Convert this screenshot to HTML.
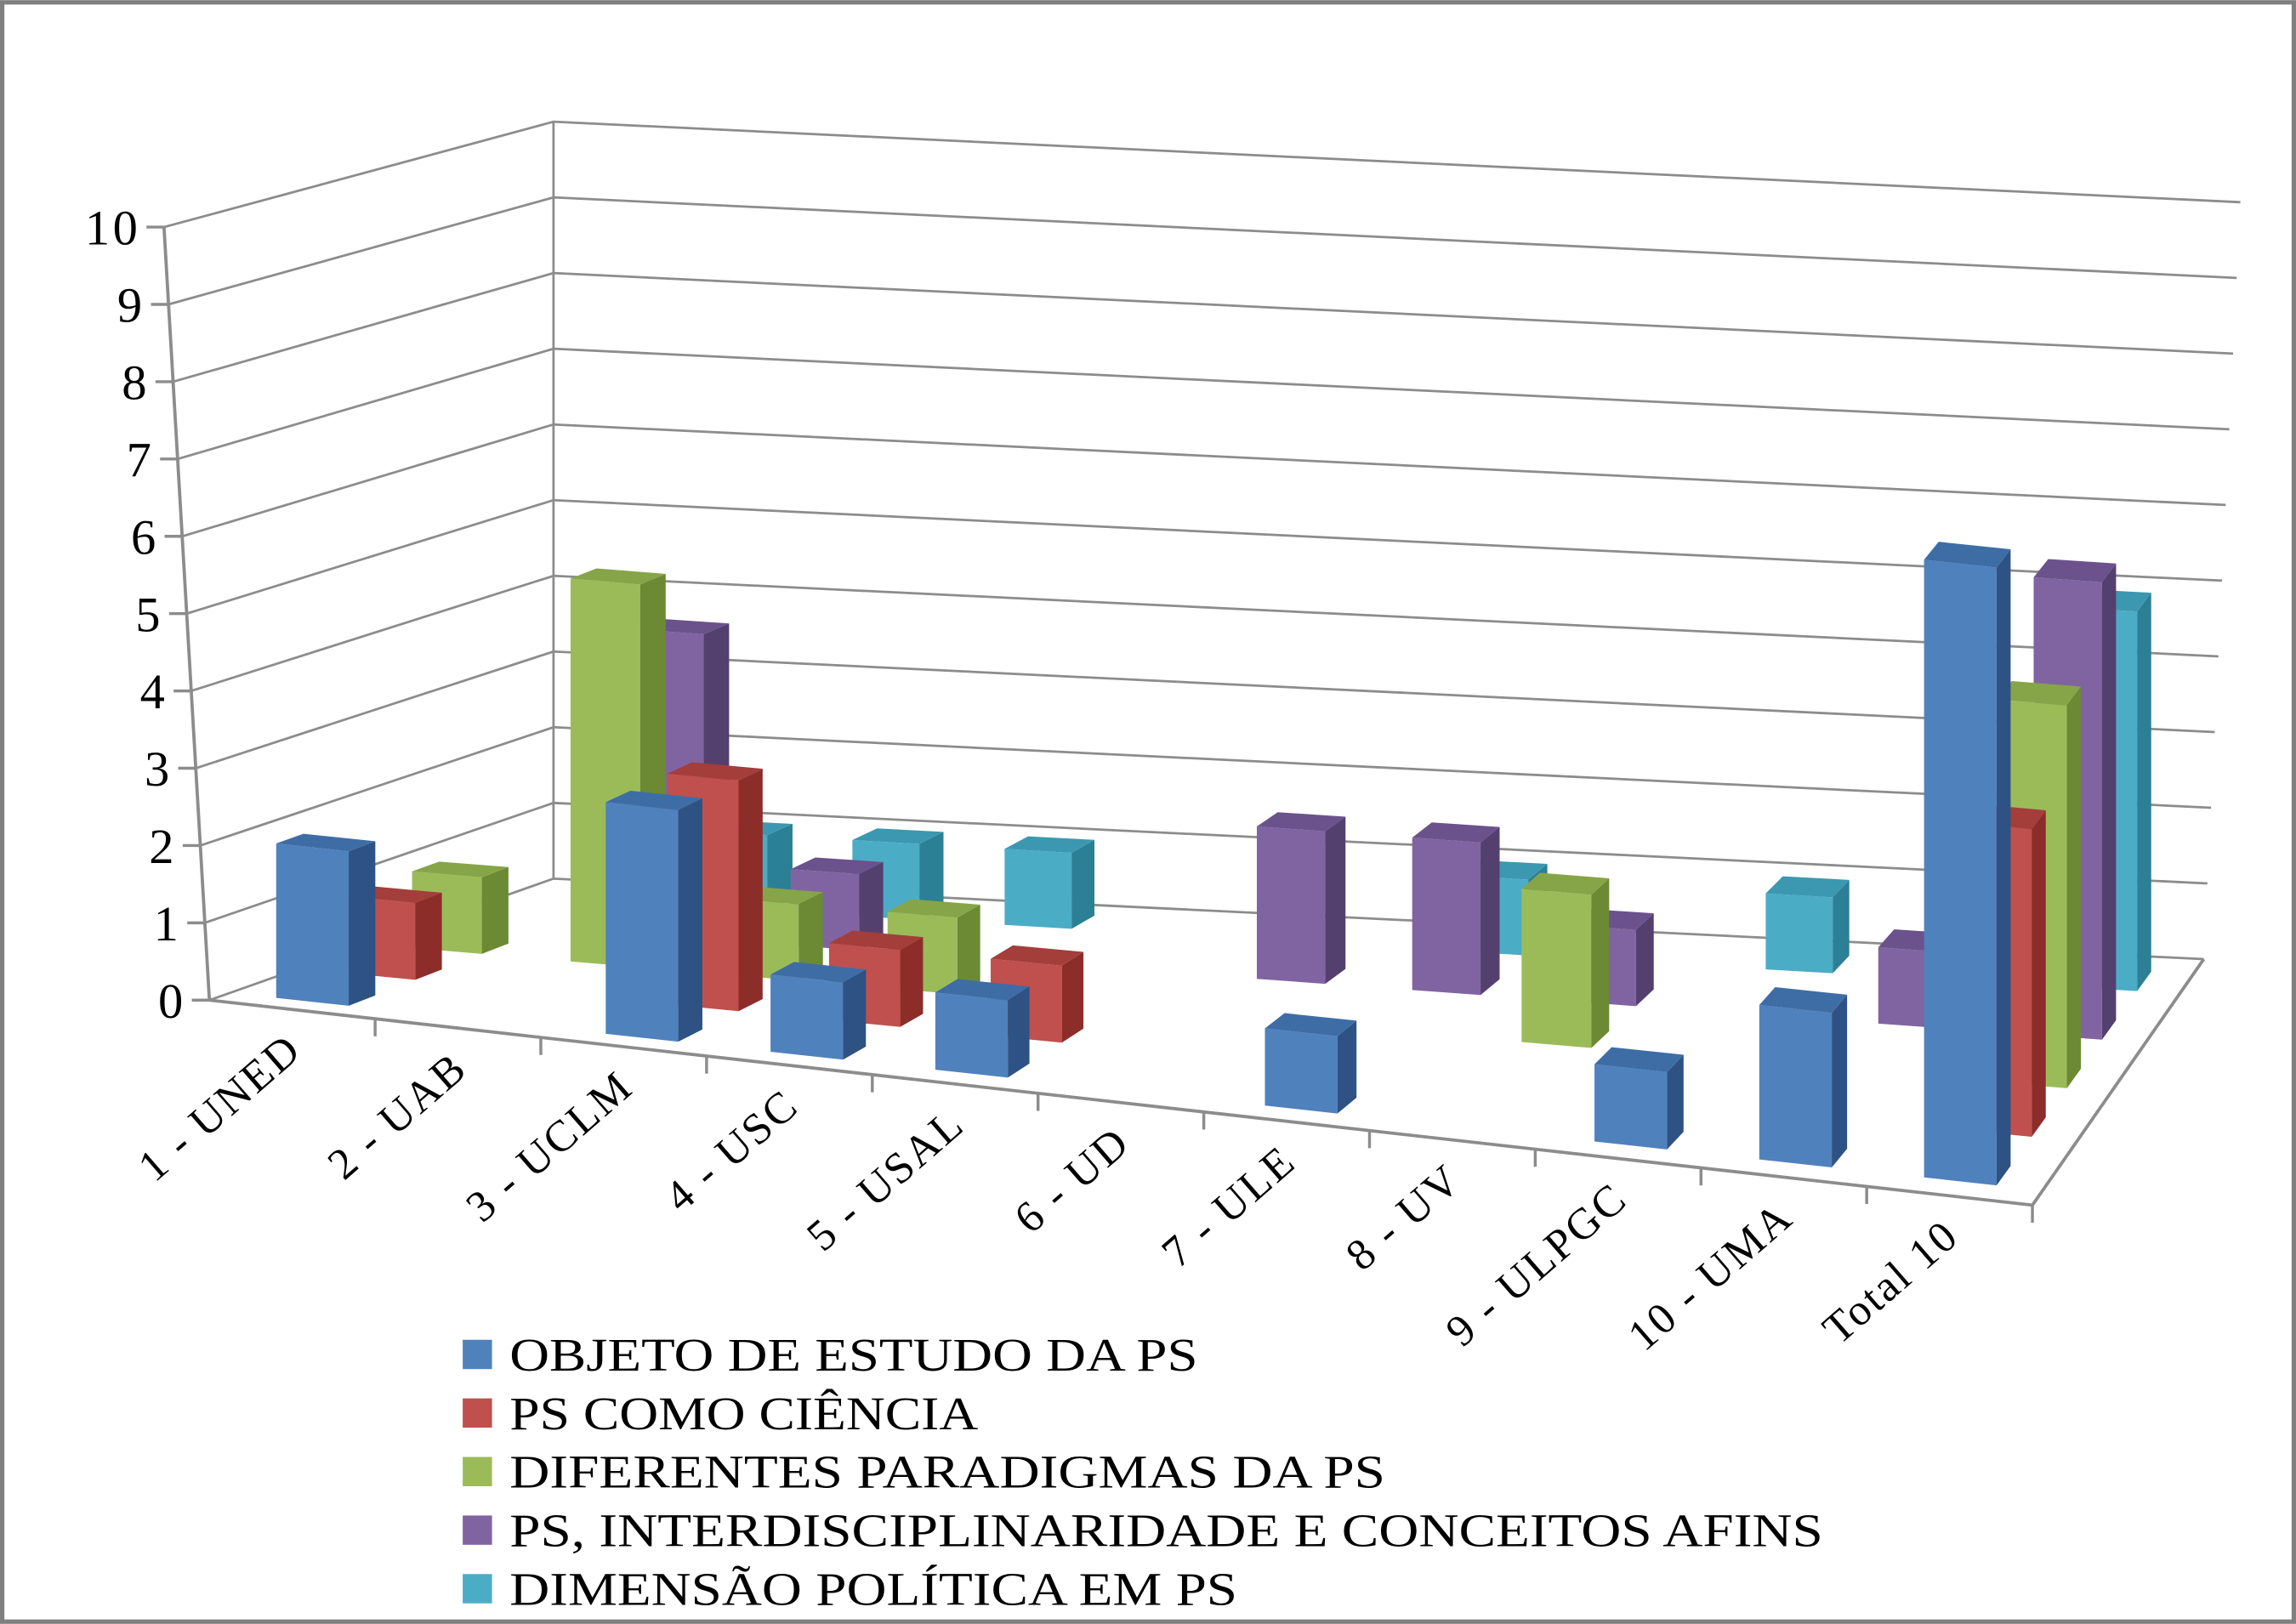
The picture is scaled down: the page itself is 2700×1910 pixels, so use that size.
<!DOCTYPE html>
<html><head><meta charset="utf-8"><style>
html,body{margin:0;padding:0;background:#fff;}
svg{display:block;}
text{font-family:"Liberation Serif",serif;fill:#000;}
</style></head><body>
<svg id="chart" width="2700" height="1910" viewBox="0 0 1568 1109" xmlns="http://www.w3.org/2000/svg">
<rect x="1.5" y="1.5" width="1565" height="1106" fill="#fff" stroke="#7f7f7f" stroke-width="3"/>
<g id="grid"></g>
<g id="bars"></g>
<g id="axes"></g>
<g id="legend"></g>
</svg>
<script>
const categories = ["1 - UNED","2 - UAB","3 - UCLM","4 - USC","5 - USAL","6 - UD","7 - ULE","8 - UV","9 - ULPGC","10 - UMA","Total 10"];
const seriesNames = ["OBJETO DE ESTUDO DA PS","PS COMO CIÊNCIA","DIFERENTES PARADIGMAS DA PS","PS, INTERDISCIPLINARIDADE E CONCEITOS AFINS","DIMENSÃO POLÍTICA EM PS"];
const objeto =      [2,0,3,1,1,0,1,0,1,2,8];
const ciencia =     [1,0,3,1,1,0,0,0,0,0,4];
const paradigmas =  [1,5,1,1,0,0,0,2,0,0,5];
const interdisc =   [0,4,1,0,0,2,2,1,0,1,6];
const politica =    [0,1,1,1,0,0,1,0,1,0,5];
const yTicks = [0,1,2,3,4,5,6,7,8,9,10];

const series = [objeto,ciencia,paradigmas,interdisc,politica];
const faceColors = [["#4F81BD","#2E5283","#3E6DA6"],["#C0504D","#8C2D2A","#A33E3B"],["#9BBB59","#6B8A33","#86A548"],["#8064A2","#54406F","#6B528C"],["#4BACC6","#2C8096","#3C98B0"]];
const legendLens = [470,320,598,897,497];
const NS="http://www.w3.org/2000/svg";
const FL=[143,683],FR=[1388,823],BL=[378,600],BR=[1505,655];
const N=categories.length;
function lerp(a,b,t){return a+(b-a)*t;}
function floorPt(t,d){
  const fx=lerp(FL[0],FR[0],t), fy=lerp(FL[1],FR[1],t);
  const bx=lerp(BL[0],BR[0],t), by=lerp(BL[1],BR[1],t);
  return [lerp(fx,bx,d),lerp(fy,by,d)];
}
function unit(d){return lerp(52.8,51.7,d);}
function el(tag,attrs,parent){const e=document.createElementNS(NS,tag);for(const k in attrs)e.setAttribute(k,attrs[k]);parent.appendChild(e);return e;}
const grid=document.getElementById('grid'),bars=document.getElementById('bars'),axes=document.getElementById('axes'),legend=document.getElementById('legend');

yTicks.forEach(v=>{
  const fx=143-3.1*v, fy=683-52.8*v;
  const bx=378, by=600-51.7*v;
  const rx=1505+2.5*v, ry=655-51.7*v;
  const p=el('polyline',{points:`${fx},${fy} ${bx},${by} ${rx},${ry}`,fill:'none',stroke:'#8c8c8c','stroke-width':1.6},grid);
  
  
  const tk=el('line',{x1:fx-12,y1:fy,x2:fx,y2:fy,stroke:'#8c8c8c','stroke-width':2},axes);
  
  
  const t=el('text',{x:fx-16,y:fy+12,'text-anchor':'end','font-size':34,'letter-spacing':2},axes);
  t.textContent=v;
  
  
});
el('line',{x1:378,y1:600,x2:378,y2:83,stroke:'#8c8c8c','stroke-width':1.6},grid);
const ax=el('line',{x1:143,y1:683,x2:143-31,y2:155,stroke:'#8c8c8c','stroke-width':2.2},axes);


const fe=el('polyline',{points:`${FL[0]},${FL[1]} ${FR[0]},${FR[1]} ${BR[0]},${BR[1]}`,fill:'none',stroke:'#8c8c8c','stroke-width':2.2},axes);


for(let i=1;i<=N;i++){
  const p=floorPt(i/N,0);
  const tk=el('line',{x1:p[0],y1:p[1],x2:p[0],y2:p[1]+12,stroke:'#8c8c8c','stroke-width':2},axes);
  
  
}
categories.forEach((c,i)=>{
  const p=floorPt((i+0.5)/N,0);
  const x=p[0]+8,y=p[1]+30;
  const t=el('text',{x:x,y:y,'text-anchor':'end','font-size':30,'letter-spacing':1.5,transform:`rotate(-41 ${x} ${y})`},axes);
  t.textContent=c;
  
  
});

const W=0.44, DT=0.08;
for(let k=series.length-1;k>=0;k--){
  const vals=series[k];
  for(let i=0;i<N;i++){
    const v=vals[i]; if(!v) continue;
    const t0=(i+0.5-W/2)/N, t1=(i+0.5+W/2)/N;
    const d0=(k+0.5)/5-DT/2, d1=d0+DT;
    const a=floorPt(t0,d0),b=floorPt(t1,d0),c=floorPt(t1,d1),d=floorPt(t0,d1);
    const h0=v*unit(d0), h1=v*unit(d1);
    const g=el('g',{},bars);
    
    
    const col=faceColors[k];
    el('polygon',{points:`${a[0]},${a[1]} ${b[0]},${b[1]} ${b[0]},${b[1]-h0} ${a[0]},${a[1]-h0}`,fill:col[0]},g);
    el('polygon',{points:`${b[0]},${b[1]} ${c[0]},${c[1]} ${c[0]},${c[1]-h1} ${b[0]},${b[1]-h0}`,fill:col[1]},g);
    el('polygon',{points:`${a[0]},${a[1]-h0} ${b[0]},${b[1]-h0} ${c[0]},${c[1]-h1} ${d[0]},${d[1]-h1}`,fill:col[2]},g);
  }
}

seriesNames.forEach((s,k)=>{
  const y=925+k*40;
  const g=el('g',{},legend);
  
  
  el('rect',{x:316,y:y-10,width:20,height:20,fill:faceColors[k][0]},g);
  const t=el('text',{x:348,y:y+11,'font-size':32,textLength:legendLens[k],lengthAdjust:'spacingAndGlyphs'},g);
  t.textContent=s;
});
</script>
</body></html>
